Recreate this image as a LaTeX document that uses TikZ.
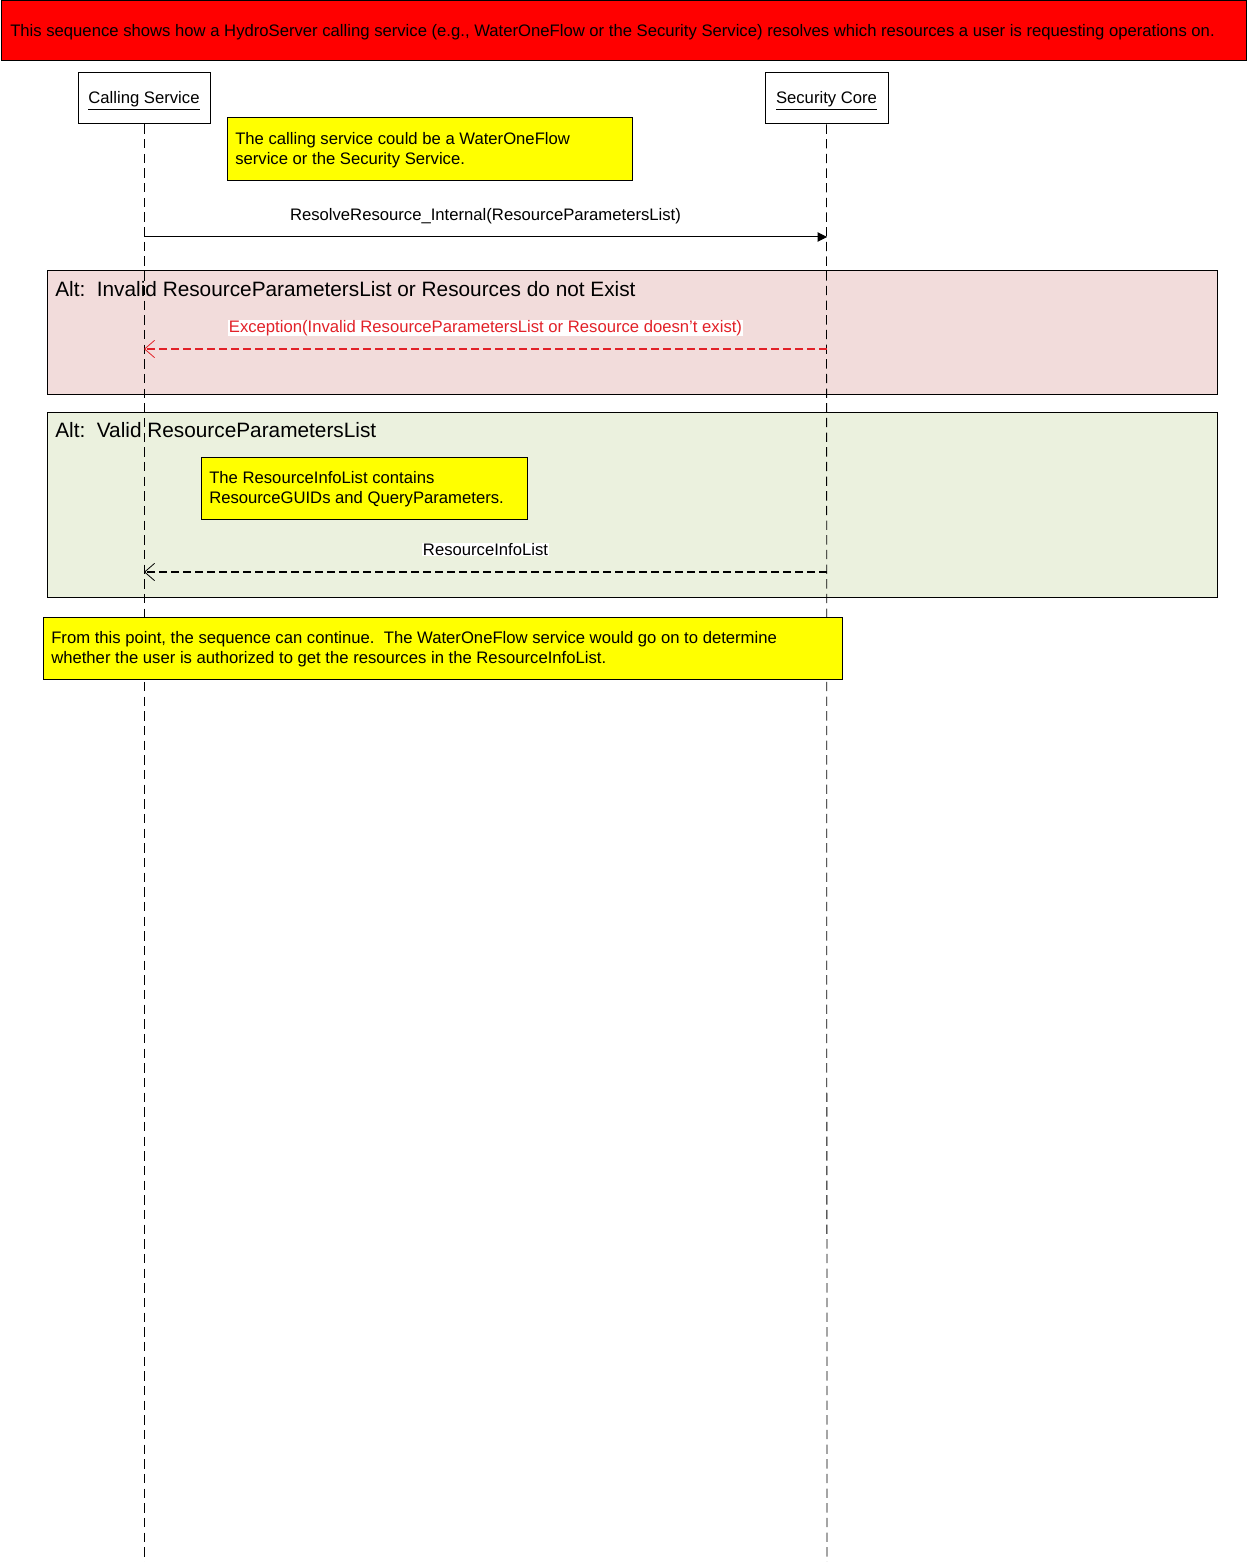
\documentclass[tikz,border=0pt]{standalone}
\usepackage{fontspec}
\setmainfont{Liberation Sans}
\usetikzlibrary{arrows.meta}
\definecolor{titlered}{RGB}{255,0,0}
\definecolor{altpink}{RGB}{242,220,219}
\definecolor{altgreen}{RGB}{235,241,222}
\definecolor{noteyellow}{RGB}{255,255,0}
\definecolor{excred}{RGB}{226,33,40}
\newcommand{\ulabel}[1]{\raisebox{-4pt}[0pt][0pt]{\makebox[0pt]{\underline{#1}}}}
\begin{document}
\begin{tikzpicture}[x=0.75pt,y=-0.75pt,
  actor/.style={draw=black,fill=white,line width=0.75pt,minimum width=#1,minimum height=38.25pt,inner sep=0pt,font=\fontsize{12.5}{14}\selectfont},
  lifeline/.style={black,line width=0.6pt,dash pattern=on 7pt off 4pt},
  msgtext/.style={font=\fontsize{12.5}{14}\selectfont,inner sep=0.5pt},
  altframe/.style={draw=black,line width=0.75pt},
  alttext/.style={anchor=west,inner sep=0pt,font=\fontsize{15.6}{18}\selectfont},
  notebox/.style={draw=black,line width=0.6pt,fill=noteyellow},
  notetext/.style={anchor=north west,inner sep=0pt,align=left,font=\fontsize{12.5}{15}\selectfont},
  syncmsg/.style={line width=0.75pt,-{Triangle[length=7pt,width=7pt]}},
  retmsg/.style={line width=0.8pt,dash pattern=on 6pt off 3pt,-{Straight Barb[length=7.5pt,width=13pt,line width=0.6pt]}}
]
\useasboundingbox (0,0) rectangle (1248,1562);
% title
\draw[draw=black,fill=titlered,line width=0.75pt] (1,1) rectangle (1246,61);
\node[anchor=west,inner sep=0pt,font=\fontsize{12.5}{14}\selectfont] (title) at (10,32) {This sequence shows how a HydroServer calling service (e.g., WaterOneFlow or the Security Service) resolves which resources a user is requesting operations on.};
% alt frames
\draw[altframe,fill=altpink] (47,270) rectangle (1217,394);
\node[alttext] (alt1) at (55,289) {Alt:\ \ Invalid ResourceParametersList or Resources do not Exist};
\draw[altframe,fill=altgreen] (47,412) rectangle (1217,597);
\node[alttext] (alt2) at (55,430) {Alt:\ \ Valid ResourceParametersList};
% actors
\node[actor=99pt] (cs) at (144,98.5) {\ulabel{Calling Service}};
\node[actor=92.25pt] (sc) at (826.5,98.5) {\ulabel{Security Core}};
\coordinate (csend) at (144,1562);
\coordinate (scend) at (827,1562);
\draw[lifeline] (cs.south) -- (csend);
\draw[lifeline] (sc.south) -- (scend);
% note 1
\draw[notebox] (227,117) rectangle (632,180);
\node[notetext] (n1) at (235,132.5) {The calling service could be a WaterOneFlow\\service or the Security Service.};
% message 1
\coordinate (m1a) at (144,237);
\coordinate (m1b) at (827,237);
\draw[syncmsg] (m1a) -- (m1b);
\node[msgtext] (m1t) at (485.5,216) {ResolveResource\_Internal(ResourceParametersList)};
% exception
\coordinate (m2a) at (827,349);
\coordinate (m2b) at (144,349);
\draw[retmsg,color=excred] (m2a) -- (m2b);
\node[msgtext,fill=white,text=excred] (m2t) at (485.5,328) {Exception(Invalid ResourceParametersList or Resource doesn't exist)};
% note 2
\draw[notebox] (201,457) rectangle (527,519);
\node[notetext] (n2) at (209,471.5) {The ResourceInfoList contains\\ResourceGUIDs and QueryParameters.};
% return
\coordinate (m3a) at (827,572);
\coordinate (m3b) at (144,572);
\draw[retmsg,color=black] (m3a) -- (m3b);
\node[msgtext,fill=white] (m3t) at (485.5,549.5) {ResourceInfoList};
% note 3
\draw[notebox] (43,617) rectangle (842,679);
\node[notetext] (n3) at (51,631.5) {From this point, the sequence can continue.\ \ The WaterOneFlow service would go on to determine\\whether the user is authorized to get the resources in the ResourceInfoList.};
\end{tikzpicture}
\end{document}
